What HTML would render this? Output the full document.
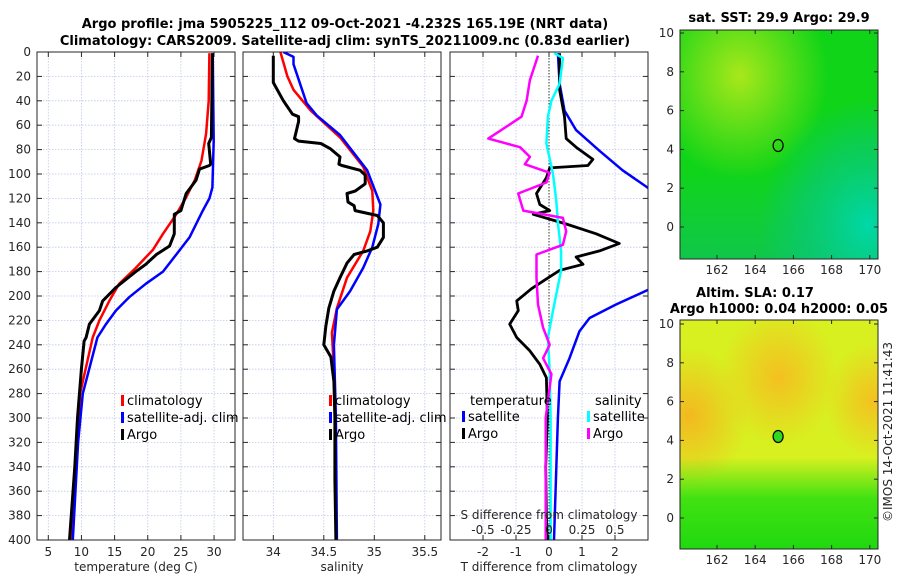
<!DOCTYPE html>
<html><head><meta charset="utf-8">
<style>
html,body{margin:0;padding:0;background:#fff;}
svg{display:block;font-family:"DejaVu Sans","Liberation Sans",sans-serif;}
.tk{font-size:12px;fill:#262626;}
.tt{font-size:13px;font-weight:bold;fill:#000;}
.lg{font-size:13px;fill:#000;}
</style></head>
<body>
<svg id="chart" width="900" height="580" viewBox="0 0 900 580">
<defs>
<radialGradient id="g1a" cx="0.3" cy="0.2" r="0.45"><stop offset="0" stop-color="#a8e81a"/><stop offset="1" stop-color="#a8e81a" stop-opacity="0"/></radialGradient>
<radialGradient id="g1b" cx="0.95" cy="0.85" r="0.55"><stop offset="0" stop-color="#00d8a8"/><stop offset="0.6" stop-color="#08c880" stop-opacity="0.6"/><stop offset="1" stop-color="#08c880" stop-opacity="0"/></radialGradient>
<linearGradient id="g1c" x1="0" y1="0" x2="0" y2="1"><stop offset="0.6" stop-color="#10c860" stop-opacity="0"/><stop offset="1" stop-color="#10c060" stop-opacity="0.7"/></linearGradient>
<radialGradient id="g2a" cx="0.05" cy="0.42" r="0.3"><stop offset="0" stop-color="#f4b820"/><stop offset="1" stop-color="#f4b820" stop-opacity="0"/></radialGradient>
<radialGradient id="g2b" cx="0.5" cy="0.25" r="0.3"><stop offset="0" stop-color="#f4c020"/><stop offset="1" stop-color="#f4c020" stop-opacity="0"/></radialGradient>
<radialGradient id="g2d" cx="0.98" cy="0.35" r="0.25"><stop offset="0" stop-color="#f4c020"/><stop offset="1" stop-color="#f4c020" stop-opacity="0"/></radialGradient>
<linearGradient id="g2c" x1="0" y1="0" x2="0" y2="1"><stop offset="0.6" stop-color="#30e010" stop-opacity="0"/><stop offset="0.78" stop-color="#30e010" stop-opacity="0.9"/><stop offset="1" stop-color="#20d810"/></linearGradient>
</defs>
<g id="layer"></g>
</svg>
<script>
// ---------- data ----------
const depthTicks = [0,20,40,60,80,100,120,140,160,180,200,220,240,260,280,300,320,340,360,380,400];
const tempTicks = [5,10,15,20,25,30];
const salTicks = [34,34.5,35,35.5];
const salTickLabels = ["34","34.5","35","35.5"];
const dTTicks = [-2,-1,0,1,2];
const dSTicks = [-0.5,-0.25,0,0.25,0.5];
const dSTickLabels = ["-0.5","-0.25","0","0.25","0.5"];
const lonTicks = [162,164,166,168,170];
const latTicks = [0,2,4,6,8,10];

const tClimDepth = [1,40,67,89,105,119,133,149,162,177,190,204,220,234,280,300,340,400];
const tClimVal   = [29.3,29.2,28.8,28.1,27.1,25.8,24.3,22.3,20.8,18.2,15.7,14.2,12.7,11.7,9.8,9.6,9.2,8.4];
const tSatDepth  = [1,73,111,120,130,152,166,180,190,201,212,223,234,280,320,400];
const tSatVal    = [29.8,29.95,29.75,29.3,28.3,26.3,24.3,22.3,19.7,17.2,15.2,13.7,12.4,10.2,9.5,8.7];
const tArgoDepth = [1,70,75,92,93,96,105,116,130,133,149,159,166,174,180,193,204,212,223,234,237,260,300,340,400];
const tArgoVal   = [29.75,29.6,29.2,29.5,29.3,27.8,27.3,25.8,25.0,24.0,24.0,23.3,21.3,19.7,18.2,15.2,13.2,12.7,11.2,10.7,10.4,10.0,9.4,9.0,8.2];

const sClimDepth = [0,20,31,48,70,94,114,130,147,163,185,210,230,260,300,400];
const sClimVal   = [34.07,34.14,34.2,34.37,34.66,34.89,34.98,34.99,34.96,34.89,34.73,34.63,34.58,34.6,34.61,34.62];
const sSatDepth  = [0,4,10,42,52,68,97,125,141,160,177,196,211,240,300,400];
const sSatVal    = [34.1,34.2,34.2,34.33,34.43,34.66,34.93,35.06,35.04,34.98,34.89,34.76,34.63,34.6,34.62,34.63];
const sArgoDepth = [3,25,31,40,51,53,57,71,73,75,79,86,92,93,97,101,108,114,116,123,126,130,134,140,152,160,163,166,173,185,196,210,225,240,250,270,300,350,400];
const sArgoVal   = [34.0,34.0,34.04,34.1,34.19,34.25,34.25,34.21,34.25,34.47,34.56,34.66,34.65,34.68,34.86,34.91,34.91,34.81,34.73,34.74,34.8,34.81,35.03,35.09,35.09,35.03,34.93,34.8,34.73,34.66,34.6,34.55,34.52,34.5,34.57,34.6,34.61,34.61,34.62];

const dTSatDepth  = [1,26,48,64,81,97,111,125,150,180,195,207,218,229,251,270,300,400];
const dTSatVal    = [0.27,0.32,0.47,0.82,1.53,2.23,2.98,3.6,4.2,3.6,3.0,2.03,1.23,0.92,0.62,0.32,0.27,0.15];
const dTArgoDepth = [1,31,53,71,78,88,93,95,103,116,125,130,133,141,149,157,163,168,174,179,186,194,204,212,223,234,245,256,267,300,340,380,400];
const dTArgoVal   = [0.32,0.32,0.47,0.52,0.82,1.33,1.18,0.02,-0.08,-0.38,-0.28,0.02,-0.48,0.52,1.43,2.13,1.53,0.82,1.03,0.32,-0.08,-0.53,-0.98,-0.93,-1.19,-0.98,-0.58,-0.28,-0.08,-0.05,-0.1,-0.08,-0.05];
const dSSatDepth  = [1,5,26,40,53,75,100,122,141,163,179,212,234,262,300,400];
const dSSatVal    = [0.04,0.105,0.08,0.018,-0.008,-0.02,0.03,0.055,0.068,0.092,0.092,0.03,-0.008,0.005,0.012,0.012];
const dSArgoDepth = [3,23,40,53,71,78,86,92,99,107,116,130,136,147,158,166,185,207,226,240,251,264,300,400];
const dSArgoVal   = [-0.083,-0.145,-0.17,-0.208,-0.46,-0.22,-0.145,-0.183,0.005,-0.02,-0.233,-0.195,0.105,0.13,0.105,-0.095,-0.095,-0.083,-0.045,0.005,-0.045,0.018,-0.025,-0.025];

const argoLon = [165.2];
const argoLat = [4.2];

// ---------- helpers ----------
const NS = "http://www.w3.org/2000/svg";
const root = document.getElementById('layer');
function mk(tag, attrs, parent){ const e=document.createElementNS(NS,tag); for(const k in attrs) e.setAttribute(k,attrs[k]); (parent||root).appendChild(e); return e; }
const TOP=52, BOT=540;
const yD = d => TOP + d*(BOT-TOP)/400;
const P1={x0:37,x1:235}, P2={x0:243,x1:441}, P3={x0:450,x1:648};
const xT = t => 48.3 + (t-5)*6.63;
const xS = s => 273.3 + (s-34)*101;
const xDT = t => 549 + t*33;
const xDS = s => 549 + s*132;

function panel(P, name, xticks, xf, id){
  const g = mk('g',{});
  
  
  mk('clipPath',{id:id},g); mk('rect',{x:P.x0,y:TOP,width:P.x1-P.x0,height:BOT-TOP},g.lastChild);
  depthTicks.forEach(d=>{ if(d>0&&d<400){ mk('line',{x1:P.x0,x2:P.x1,y1:yD(d),y2:yD(d),stroke:'#c0c8e8','stroke-width':0.8,'stroke-dasharray':'1.5,1.5'},g);}
    mk('line',{x1:P.x0,x2:P.x0+5,y1:yD(d),y2:yD(d),stroke:'#262626'},g);
    mk('line',{x1:P.x1-5,x2:P.x1,y1:yD(d),y2:yD(d),stroke:'#262626'},g);});
  xticks.forEach(v=>{ const x=xf(v);
    mk('line',{x1:x,x2:x,y1:TOP,y2:BOT,stroke:'#c0c8e8','stroke-width':0.8,'stroke-dasharray':'1.5,1.5'},g);
    mk('line',{x1:x,x2:x,y1:BOT,y2:BOT-5,stroke:'#262626'},g);
    mk('line',{x1:x,x2:x,y1:TOP,y2:TOP+5,stroke:'#262626'},g);});
  return g;
}
function line(g, depths, vals, xf, color, w, clip, name){
  const pts = depths.map((d,i)=>xf(vals[i]).toFixed(1)+','+yD(d).toFixed(1)).join(' ');
  const p = mk('polyline',{points:pts,fill:'none',stroke:color,'stroke-width':w,'stroke-linejoin':'round','clip-path':'url(#'+clip+')'},g);
  
  
}
function frame(P,g){ mk('rect',{x:P.x0,y:TOP,width:P.x1-P.x0,height:BOT-TOP,fill:'none',stroke:'#262626','stroke-width':1},g); }
function txt(x,y,s,cls,anchor,parent,extra){ const t=mk('text',Object.assign({x:x,y:y,'class':cls,'text-anchor':anchor||'start'},extra||{}),parent); t.textContent=s; return t; }
function legendEntry(g,x,y,color,label){
  const e = mk('g',{},g);
  
  
  mk('rect',{x:x,y:y-10,width:3,height:11,fill:color},e);
  txt(x+6,y,label,'lg','start',e);
}

// titles
const t1=txt(345,28,'Argo profile: jma 5905225_112 09-Oct-2021 -4.232S 165.19E (NRT data)','tt','middle');
 
const t2=txt(345,45,'Climatology: CARS2009. Satellite-adj clim: synTS_20211009.nc (0.83d earlier)','tt','middle');
 

// y tick labels
depthTicks.forEach(d=>{ txt(31,yD(d)+4,String(d),'tk','end'); });

// Panel 1
const g1 = panel(P1,'temperature-panel',tempTicks,xT,'c1');
line(g1,tClimDepth,tClimVal,xT,'#ff0000',2.5,'c1','temp-climatology-line');
line(g1,tSatDepth,tSatVal,xT,'#0000ff',2.5,'c1','temp-satellite-line');
line(g1,tArgoDepth,tArgoVal,xT,'#000000',3,'c1','temp-argo-line');
frame(P1,g1);
tempTicks.forEach(v=>txt(xT(v),556,String(v),'tk','middle',g1));
txt(136,571,'temperature (deg C)','tk','middle',g1,{'font-size':'13'});
legendEntry(g1,121,405,'#ff0000','climatology');
legendEntry(g1,121,422,'#0000ff','satellite-adj. clim');
legendEntry(g1,121,439,'#000000','Argo');

// Panel 2
const g2 = panel(P2,'salinity-panel',salTicks,xS,'c2');
line(g2,sClimDepth,sClimVal,xS,'#ff0000',2.5,'c2','sal-climatology-line');
line(g2,sSatDepth,sSatVal,xS,'#0000ff',2.5,'c2','sal-satellite-line');
line(g2,sArgoDepth,sArgoVal,xS,'#000000',3,'c2','sal-argo-line');
frame(P2,g2);
salTicks.forEach((v,i)=>txt(xS(v),556,salTickLabels[i],'tk','middle',g2));
txt(342,571,'salinity','tk','middle',g2,{'font-size':'13'});
legendEntry(g2,329,405,'#ff0000','climatology');
legendEntry(g2,329,422,'#0000ff','satellite-adj. clim');
legendEntry(g2,329,439,'#000000','Argo');

// Panel 3
const g3 = panel(P3,'difference-panel',dTTicks,xDT,'c3');
mk('line',{x1:xDT(0),x2:xDT(0),y1:TOP,y2:BOT,stroke:'#333','stroke-width':1,'stroke-dasharray':'1.5,1.5'},g3);
line(g3,dTSatDepth,dTSatVal,xDT,'#0000ff',2.5,'c3','dT-satellite-line');
line(g3,dTArgoDepth,dTArgoVal,xDT,'#000000',2.8,'c3','dT-argo-line');
line(g3,dSSatDepth,dSSatVal,xDS,'#00ffff',2.5,'c3','dS-satellite-line');
line(g3,dSArgoDepth,dSArgoVal,xDS,'#ff00ff',2.5,'c3','dS-argo-line');
frame(P3,g3);
dTTicks.forEach(v=>txt(xDT(v),556,String(v),'tk','middle',g3));
txt(549,571,'T difference from climatology','tk','middle',g3,{'font-size':'13'});
txt(549,519,'S difference from climatology','tk','middle',g3,{'font-size':'13'});
dSTicks.forEach((v,i)=>txt(xDS(v),534,dSTickLabels[i],'tk','middle',g3));
txt(470,405,'temperature','lg','start',g3);
legendEntry(g3,462,421,'#0000ff','satellite');
legendEntry(g3,462,438,'#000000','Argo');
txt(595,405,'salinity','lg','start',g3);
legendEntry(g3,587,421,'#00ffff','satellite');
legendEntry(g3,587,438,'#ff00ff','Argo');

// Maps
function map(name,y0,y1,lat0y,lat10y,fills,title,circleFill){
  const g = mk('g',{});
  
  
  const X0=680,X1=878;
  const xL = lon => 717 + (lon-162)*19.1;
  const yL = lat => lat0y + (lat10y-lat0y)*lat/10;
  fills.forEach(f=>mk('rect',{x:X0,y:y0,width:X1-X0,height:y1-y0,fill:f},g));
  mk('rect',{x:X0,y:y0,width:X1-X0,height:y1-y0,fill:'none',stroke:'#262626'},g);
  lonTicks.forEach(v=>{ const x=xL(v); mk('line',{x1:x,x2:x,y1:y1,y2:y1-4,stroke:'#262626'},g); mk('line',{x1:x,x2:x,y1:y0,y2:y0+4,stroke:'#262626'},g); txt(x,y1+15,String(v),'tk','middle',g);});
  latTicks.forEach(v=>{ const y=yL(v); mk('line',{x1:X0,x2:X0+4,y1:y,y2:y,stroke:'#262626'},g); mk('line',{x1:X1-4,x2:X1,y1:y,y2:y,stroke:'#262626'},g); txt(X0-6,y+4,String(v),'tk','end',g);});
  argoLon.forEach((lon,i)=>{ const c=mk('ellipse',{cx:xL(lon),cy:yL(argoLat[i]),rx:5,ry:6,fill:circleFill,stroke:'#000','stroke-width':1.2},g);
     });
  return g;
}
const m1 = map('sst-map',30,259,227,33,['#10d418','url(#g1a)','url(#g1c)','url(#g1b)'],'', 'none');
txt(779,22,'sat. SST: 29.9 Argo: 29.9','tt','middle',m1);
const m2 = map('sla-map',320,549,518,324,['#d8f020','url(#g2a)','url(#g2b)','url(#g2d)','url(#g2c)'],'', '#30d820');
txt(755,297,'Altim. SLA: 0.17','tt','middle',m2);
txt(779,313,'Argo h1000: 0.04 h2000: 0.05','tt','middle',m2);

const cr = txt(0,0,'©IMOS 14-Oct-2021 11:41:43','tk','middle',null,{transform:'translate(892,432) rotate(-90)','font-size':'13'});
 
</script>
</body></html>
